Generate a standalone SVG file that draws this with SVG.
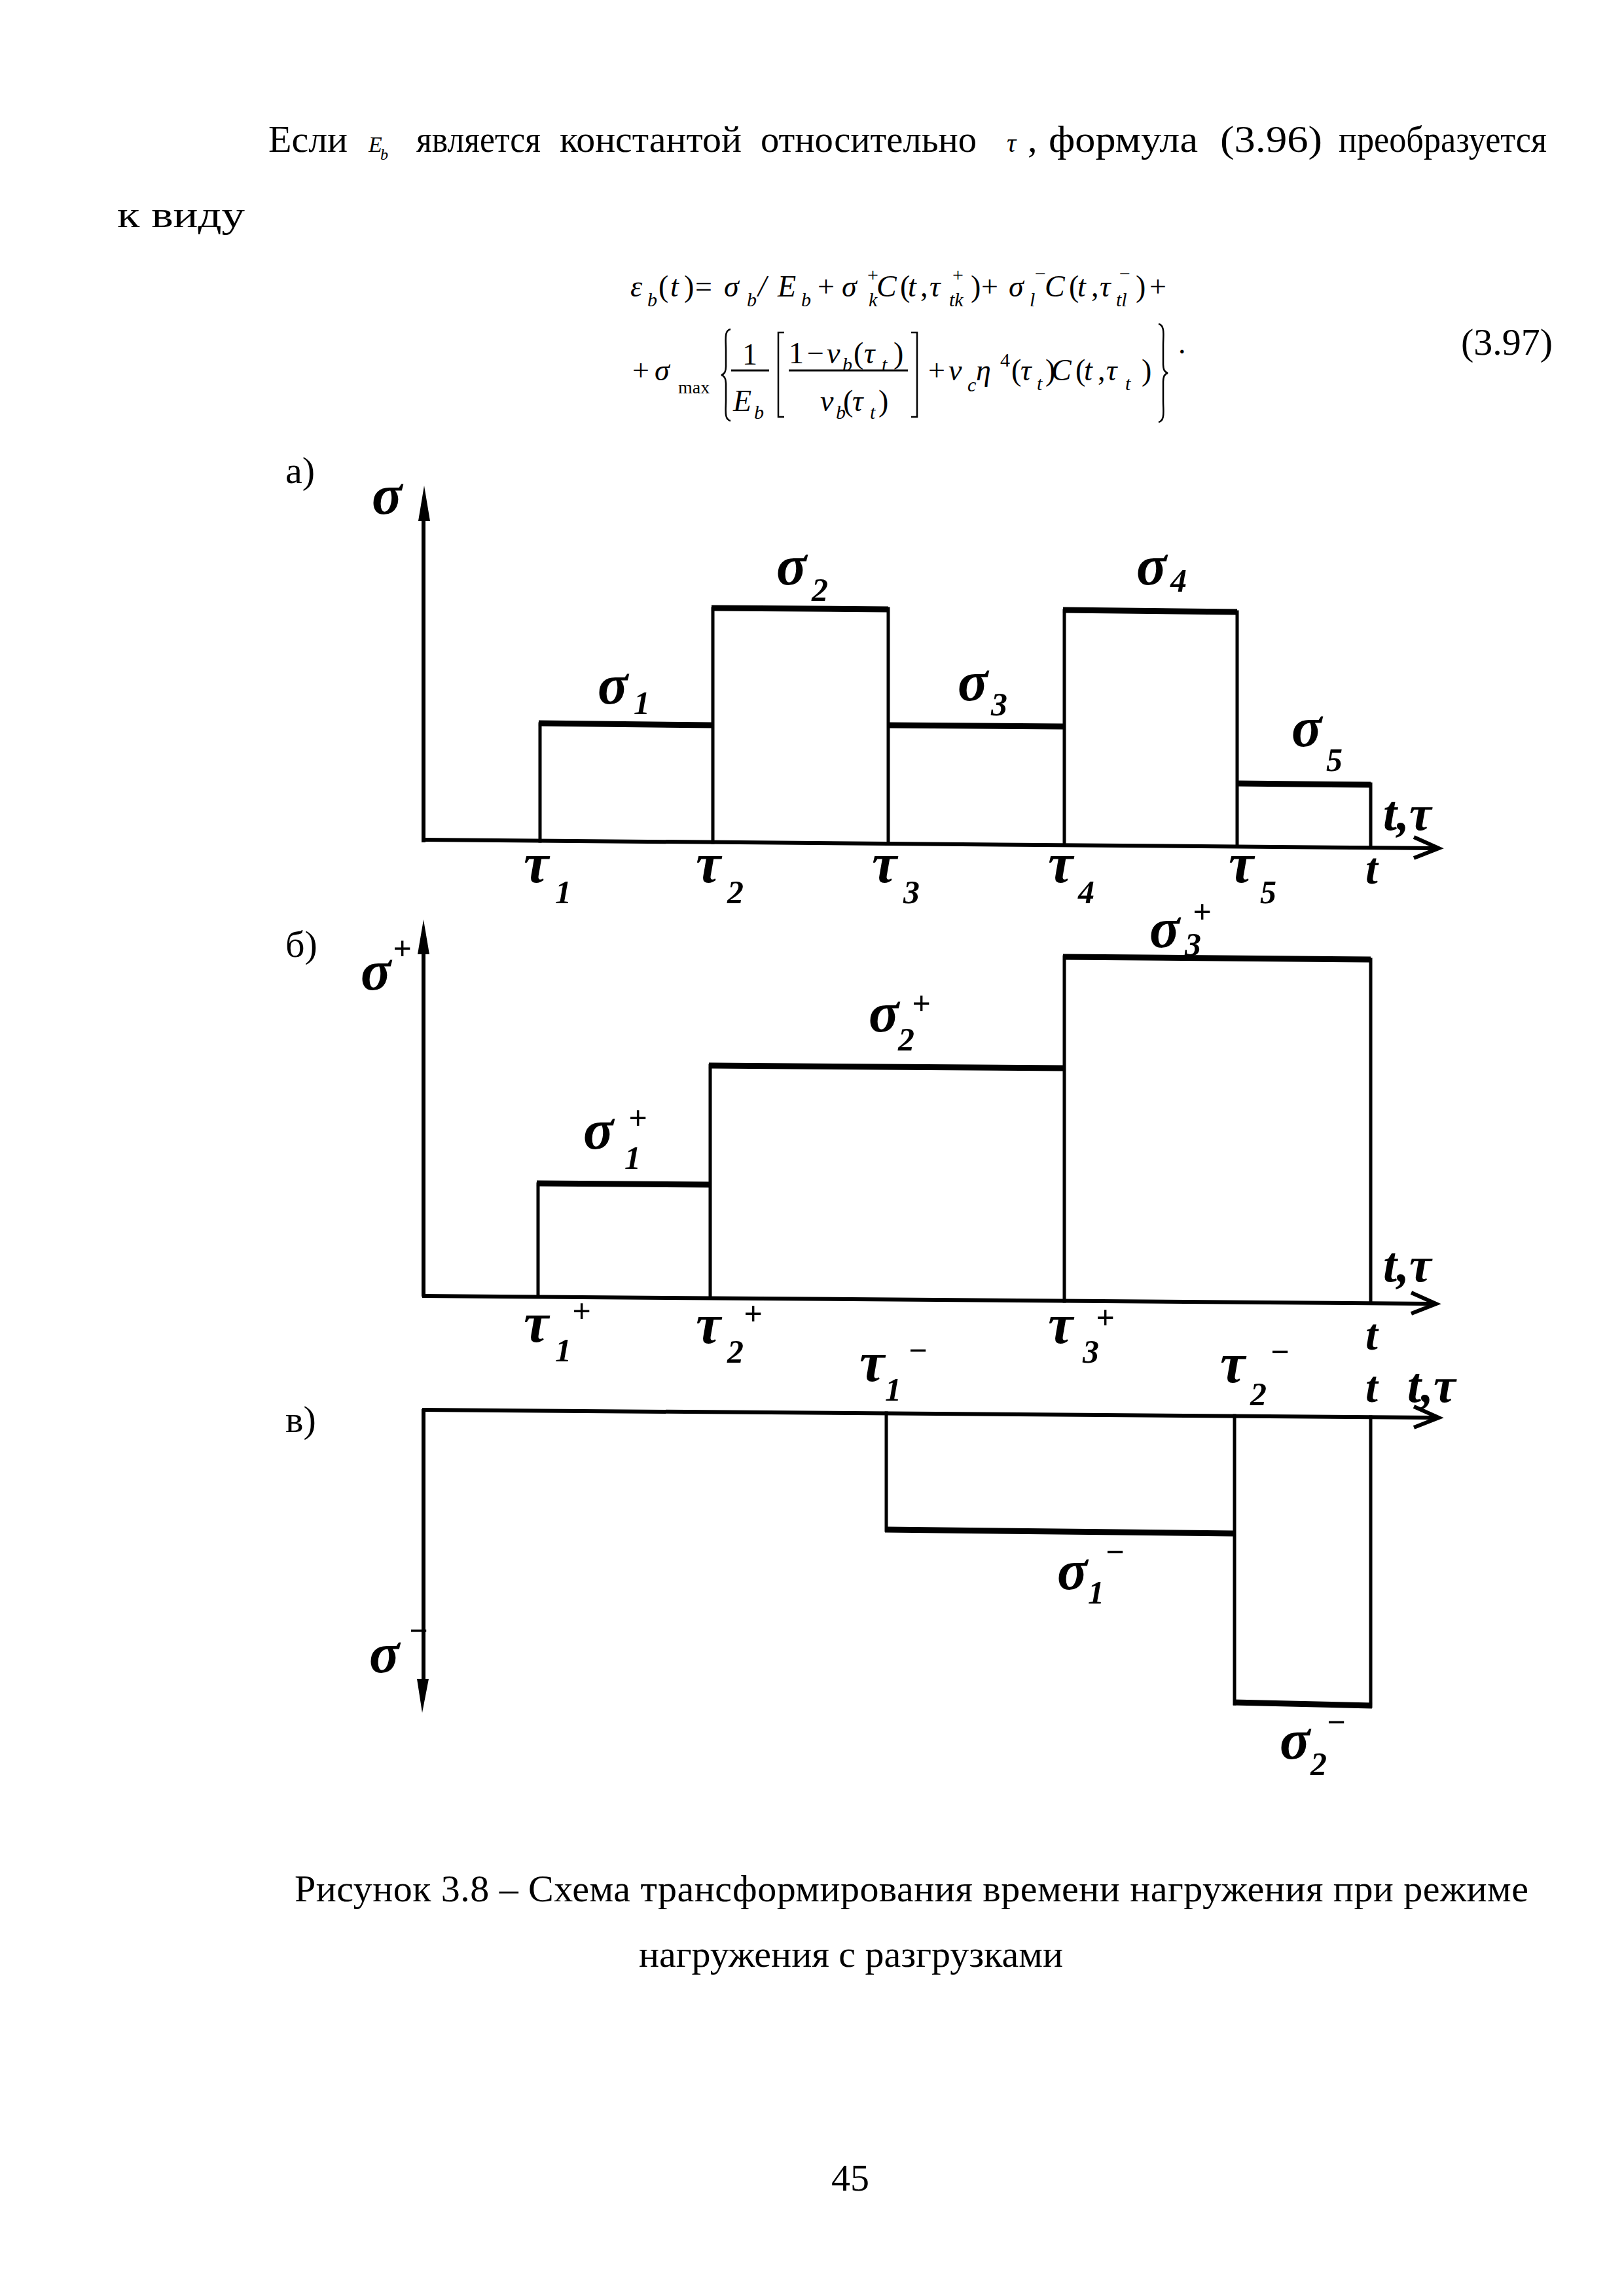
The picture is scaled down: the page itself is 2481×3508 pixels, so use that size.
<svg xmlns="http://www.w3.org/2000/svg" width="2481" height="3508" viewBox="0 0 2481 3508">
<style>
.t{font-family:"Liberation Serif",serif;font-size:58px;fill:#000}
.m{font-family:"Liberation Serif",serif;font-style:italic;font-size:46px;fill:#000}
.u{font-style:normal}
.s{font-size:30px}
.h{font-family:"Liberation Serif",serif;font-style:italic;font-weight:bold;font-size:86px;fill:#000}
.hs{font-size:50px}
.ht{font-size:68px}
.ln{stroke:#000;fill:none;stroke-width:5;stroke-linecap:square}
.top{stroke:#000;fill:none;stroke-width:9}
.ax{stroke:#000;fill:none;stroke-width:6}
.br{stroke:#000;fill:none;stroke-width:2.5}
</style>
<rect width="2481" height="3508" fill="#fff"/>

<g id="intro-text">
<text class="t" x="410" y="232">Если</text>
<text class="m" x="563" y="232" style="font-size:34px">E<tspan x="581" y="244" style="font-size:24px">b</tspan></text>
<text class="t" x="636" y="232" textLength="190" lengthAdjust="spacingAndGlyphs">является</text>
<text class="t" x="855" y="232" textLength="278" lengthAdjust="spacingAndGlyphs">константой</text>
<text class="t" x="1162" y="232" textLength="330" lengthAdjust="spacingAndGlyphs">относительно</text>
<text class="m" x="1538" y="232" style="font-size:40px">τ</text>
<text class="t" x="1570" y="232">,</text>
<text class="t" x="1602" y="232" textLength="228" lengthAdjust="spacingAndGlyphs">формула</text>
<text class="t" x="1864" y="232" textLength="156" lengthAdjust="spacingAndGlyphs">(3.96)</text>
<text class="t" x="2045" y="232" textLength="318" lengthAdjust="spacingAndGlyphs">преобразуется</text>
<text class="t" x="179" y="347" textLength="195" lengthAdjust="spacingAndGlyphs">к виду</text>
</g>

<g id="formula">
<text class="m">
<tspan x="963" y="453">ε</tspan><tspan class="s" x="989" y="468">b</tspan>
<tspan class="u" x="1006" y="453">(</tspan><tspan x="1024" y="453">t</tspan><tspan class="u" x="1045" y="453">)</tspan>
<tspan class="u" x="1062" y="453">=</tspan>
<tspan x="1106" y="453">σ</tspan><tspan class="s" x="1141" y="468">b</tspan>
<tspan x="1158" y="453">/</tspan>
<tspan x="1188" y="453">E</tspan><tspan class="s" x="1224" y="468">b</tspan>
<tspan class="u" x="1249" y="453">+</tspan>
<tspan x="1286" y="453">σ</tspan><tspan class="s u" x="1325" y="430">+</tspan><tspan class="s" x="1327" y="468">k</tspan>
<tspan x="1339" y="453">C</tspan>
<tspan class="u" x="1375" y="453">(</tspan><tspan x="1387" y="453">t</tspan><tspan class="u" x="1406" y="453">,</tspan>
<tspan x="1420" y="453">τ</tspan><tspan class="s u" x="1455" y="430">+</tspan><tspan class="s" x="1450" y="468">tk</tspan>
<tspan class="u" x="1483" y="453">)</tspan>
<tspan class="u" x="1499" y="453">+</tspan>
<tspan x="1541" y="453">σ</tspan><tspan class="s u" x="1581" y="428">−</tspan><tspan class="s" x="1573" y="468">l</tspan>
<tspan x="1596" y="453">C</tspan>
<tspan class="u" x="1633" y="453">(</tspan><tspan x="1646" y="453">t</tspan><tspan class="u" x="1667" y="453">,</tspan>
<tspan x="1680" y="453">τ</tspan><tspan class="s u" x="1710" y="428">−</tspan><tspan class="s" x="1705" y="468">tl</tspan>
<tspan class="u" x="1735" y="453">)</tspan>
<tspan class="u" x="1756" y="453">+</tspan>
</text>
<text class="m">
<tspan class="u" x="966" y="581">+</tspan>
<tspan x="1000" y="581">σ</tspan>
<tspan class="u" x="1036" y="601" style="font-size:28px">max</tspan>
<tspan class="u" x="1134" y="557">1</tspan>
<tspan x="1120" y="628">E</tspan><tspan class="s" x="1152" y="640">b</tspan>
<tspan class="u" x="1205" y="555">1</tspan>
<tspan class="u" x="1233" y="555">−</tspan>
<tspan x="1263" y="555">ν</tspan><tspan class="s" x="1287" y="567">b</tspan>
<tspan class="u" x="1304" y="555">(</tspan><tspan x="1320" y="555">τ</tspan><tspan class="s" x="1347" y="567">t</tspan><tspan class="u" x="1365" y="555">)</tspan>
<tspan x="1253" y="628">ν</tspan><tspan class="s" x="1277" y="640">b</tspan>
<tspan class="u" x="1288" y="628">(</tspan><tspan x="1302" y="628">τ</tspan><tspan class="s" x="1329" y="640">t</tspan><tspan class="u" x="1342" y="628">)</tspan>
<tspan class="u" x="1418" y="581">+</tspan>
<tspan x="1449" y="581">ν</tspan><tspan class="s" x="1478" y="598">c</tspan>
<tspan x="1491" y="581">η</tspan>
<tspan class="s u" x="1528" y="560">4</tspan>
<tspan class="u" x="1545" y="581">(</tspan><tspan x="1559" y="581">τ</tspan><tspan class="s" x="1584" y="596">t</tspan><tspan class="u" x="1597" y="581">)</tspan>
<tspan x="1606" y="581">C</tspan>
<tspan class="u" x="1643" y="581">(</tspan><tspan x="1656" y="581">t</tspan><tspan class="u" x="1677" y="581">,</tspan>
<tspan x="1690" y="581">τ</tspan><tspan class="s" x="1719" y="596">t</tspan><tspan class="u" x="1744" y="581">)</tspan>
<tspan class="u" x="1800" y="540">.</tspan>
</text>
<path class="br" d="M1116,503 C1106,505 1109,520 1109,535 L1109,560 C1109,568 1106,572 1102,573 C1106,574 1109,578 1109,586 L1109,611 C1109,626 1106,641 1116,643"/>
<path class="br" d="M1770,495 C1780,497 1777,512 1777,527 L1777,557 C1777,565 1780,569 1784,570 C1780,571 1777,575 1777,583 L1777,613 C1777,628 1780,643 1770,645"/>
<path class="br" d="M1198,508 L1189,508 L1189,637 L1198,637"/>
<path class="br" d="M1392,508 L1401,508 L1401,637 L1392,637"/>
<line x1="1117" y1="566" x2="1175" y2="566" stroke="#000" stroke-width="3"/>
<line x1="1205" y1="566" x2="1387" y2="566" stroke="#000" stroke-width="3"/>
<text class="t" x="2232" y="542">(3.97)</text>
</g>

<g id="connectors">
<line class="ax" x1="647" y1="1287" x2="647" y2="785"/>
<polygon points="648,742 639,796 657,796" fill="#000"/>
<line class="ax" x1="645" y1="1283" x2="2194" y2="1296"/>
<polyline class="ax" points="2160,1279 2198,1296 2160,1311"/>
<line class="ax" x1="647" y1="1981" x2="647" y2="1445"/>
<polygon points="647,1405 638,1458 656,1458" fill="#000"/>
<line class="ax" x1="645" y1="1980" x2="2190" y2="1992"/>
<polyline class="ax" points="2156,1975 2194,1992 2156,2007"/>
<line class="ax" x1="647" y1="2153" x2="647" y2="2575"/>
<polygon points="645,2617 637,2565 655,2565" fill="#000"/>
<line class="ax" x1="645" y1="2154" x2="2194" y2="2166"/>
<polyline class="ax" points="2160,2149 2198,2166 2160,2181"/>
</g>

<g id="panel-a">
<text class="t" x="436" y="738">а)</text>
<g id="a-steps">
<line class="ln" x1="825" y1="1285" x2="825" y2="1106"/>
<line class="ln" x1="1089" y1="1287" x2="1089" y2="930"/>
<line class="ln" x1="1357" y1="1289" x2="1357" y2="930"/>
<line class="ln" x1="1626" y1="1291" x2="1626" y2="933"/>
<line class="ln" x1="1890" y1="1293" x2="1890" y2="935"/>
<line class="ln" x1="2094" y1="1295" x2="2094" y2="1198"/>
<line class="top" x1="823" y1="1105" x2="1089" y2="1108"/>
<line class="top" x1="1087" y1="929" x2="1357" y2="931"/>
<line class="top" x1="1357" y1="1108" x2="1626" y2="1110"/>
<line class="top" x1="1624" y1="932" x2="1890" y2="935"/>
<line class="top" x1="1890" y1="1197" x2="2094" y2="1199"/>
</g>
<text class="h" x="568" y="785">σ</text>
<text class="h" x="913" y="1075">σ<tspan class="hs" x="968" y="1091">1</tspan></text>
<text class="h" x="1186" y="893">σ<tspan class="hs" x="1240" y="918">2</tspan></text>
<text class="h" x="1463" y="1070">σ<tspan class="hs" x="1514" y="1093">3</tspan></text>
<text class="h" x="1736" y="893">σ<tspan class="hs" x="1788" y="904">4</tspan></text>
<text class="h" x="1973" y="1140">σ<tspan class="hs" x="2026" y="1178">5</tspan></text>
<text class="h" x="2113" y="1268" style="font-size:76px">t,τ</text>
<text class="h" x="800" y="1348">τ<tspan class="hs" x="848" y="1380">1</tspan></text>
<text class="h" x="1063" y="1348">τ<tspan class="hs" x="1111" y="1380">2</tspan></text>
<text class="h" x="1332" y="1348">τ<tspan class="hs" x="1380" y="1380">3</tspan></text>
<text class="h" x="1601" y="1348">τ<tspan class="hs" x="1647" y="1380">4</tspan></text>
<text class="h" x="1877" y="1348">τ<tspan class="hs" x="1925" y="1380">5</tspan></text>
<text class="h ht" x="2086" y="1350">t</text>
</g>

<g id="panel-b">
<text class="t" x="436" y="1462">б)</text>
<g id="b-steps">
<line class="ln" x1="822" y1="1981" x2="822" y2="1809"/>
<line class="ln" x1="1085" y1="1983" x2="1085" y2="1628"/>
<line class="ln" x1="1626" y1="1988" x2="1626" y2="1462"/>
<line class="ln" x1="2094" y1="1991" x2="2094" y2="1466"/>
<line class="top" x1="820" y1="1808" x2="1085" y2="1810"/>
<line class="top" x1="1083" y1="1628" x2="1626" y2="1632"/>
<line class="top" x1="1624" y1="1462" x2="2094" y2="1466"/>
</g>
<text class="h" x="551" y="1512">σ<tspan class="hs" x="600" y="1466">+</tspan></text>
<text class="h" x="891" y="1755">σ<tspan class="hs" x="960" y="1725">+</tspan><tspan class="hs" x="954" y="1786">1</tspan></text>
<text class="h" x="1327" y="1576">σ<tspan class="hs" x="1393" y="1550">+</tspan><tspan class="hs" x="1372" y="1605">2</tspan></text>
<text class="h" x="1756" y="1447">σ<tspan class="hs" x="1822" y="1410">+</tspan><tspan class="hs" x="1810" y="1460">3</tspan></text>
<text class="h" x="2113" y="1958" style="font-size:76px">t,τ</text>
<text class="h" x="800" y="2050">τ<tspan class="hs" x="874" y="2020">+</tspan><tspan class="hs" x="848" y="2080">1</tspan></text>
<text class="h" x="1063" y="2052">τ<tspan class="hs" x="1136" y="2024">+</tspan><tspan class="hs" x="1111" y="2082">2</tspan></text>
<text class="h" x="1601" y="2052">τ<tspan class="hs" x="1674" y="2030">+</tspan><tspan class="hs" x="1654" y="2082">3</tspan></text>
<text class="h ht" x="2086" y="2062">t</text>
</g>

<g id="panel-v">
<text class="t" x="436" y="2188">в)</text>
<g id="v-steps">
<line class="ln" x1="1354" y1="2159" x2="1354" y2="2338"/>
<line class="ln" x1="1886" y1="2163" x2="1886" y2="2603"/>
<line class="ln" x1="2094" y1="2165" x2="2094" y2="2607"/>
<line class="top" x1="1352" y1="2337" x2="1886" y2="2343"/>
<line class="top" x1="1884" y1="2601" x2="2096" y2="2606"/>
</g>
<text class="h" x="1313" y="2110">τ<tspan class="hs" x="1387" y="2080">−</tspan><tspan class="hs" x="1352" y="2140">1</tspan></text>
<text class="h" x="1864" y="2112">τ<tspan class="hs" x="1940" y="2082">−</tspan><tspan class="hs" x="1910" y="2147">2</tspan></text>
<text class="h ht" x="2086" y="2142">t</text>
<text class="h" x="2150" y="2142" style="font-size:76px">t,τ</text>
<text class="h" x="564" y="2555">σ<tspan class="hs" x="624" y="2508">−</tspan></text>
<text class="h" x="1615" y="2428">σ<tspan class="hs" x="1688" y="2388">−</tspan><tspan class="hs" x="1662" y="2450">1</tspan></text>
<text class="h" x="1955" y="2687">σ<tspan class="hs" x="2026" y="2648">−</tspan><tspan class="hs" x="2002" y="2712">2</tspan></text>
</g>

<g id="caption">
<text class="t" x="450" y="2905" textLength="1885" lengthAdjust="spacing">Рисунок 3.8 – Схема трансформирования времени нагружения при режиме</text>
<text class="t" x="976" y="3005">нагружения с разгрузками</text>
<text class="t" x="1270" y="3347">45</text>
</g>
</svg>
